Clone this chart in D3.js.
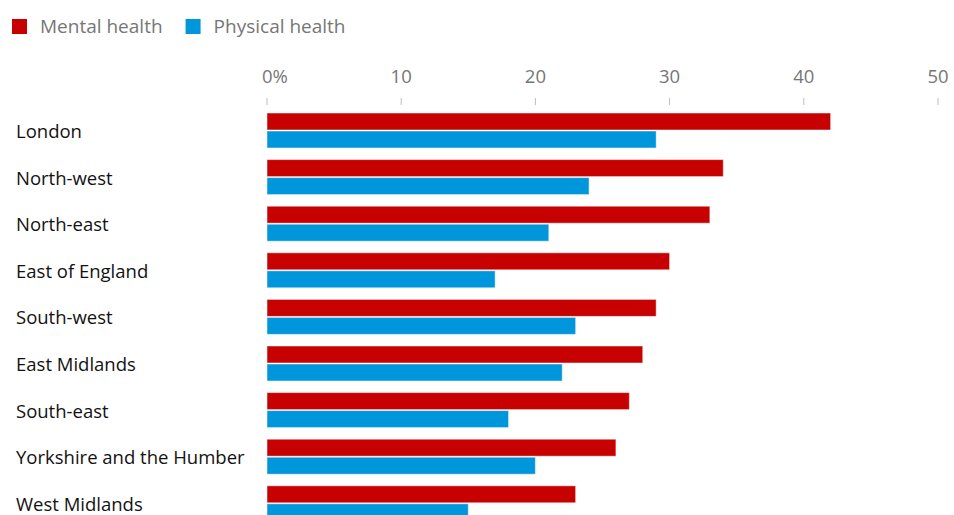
<!DOCTYPE html>
<html>
<head>
<meta charset="utf-8">
<script src="https://cdn.jsdelivr.net/npm/d3@7"></script>
<style>
  body { margin: 0; background: #fff; }
  svg { display: block; font-family: "Open Sans", "Noto Sans", sans-serif; }
</style>
</head>
<body>
<div id="chart"></div>
<script>
const regions = [
  "London", "North-west", "North-east", "East of England", "South-west",
  "East Midlands", "South-east", "Yorkshire and the Humber", "West Midlands"
];
const mental = [42, 34, 33, 30, 29, 28, 27, 26, 23];
const physical = [29, 24, 21, 17, 23, 22, 18, 20, 15];
const seriesNames = ["Mental health", "Physical health"];
const seriesColors = ["#c70000", "#0096db"];
const tickValues = [0, 10, 20, 30, 40, 50];

const width = 954, height = 515;

const svg = d3.select("#chart").append("svg")
  .attr("width", width)
  .attr("height", height);

// legend
const legend = svg.append("g");
let lx = 12;
seriesNames.forEach((name, i) => {
  legend.append("rect")
    .attr("x", lx).attr("y", 19)
    .attr("width", 15).attr("height", 15)
    .attr("fill", seriesColors[i]);
  const t = legend.append("text")
    .attr("x", lx + 28).attr("y", 33)
    .attr("fill", "#767676")
    .style("font-size", "19px")
    .text(name);
  lx += 28 + t.node().getComputedTextLength() + 23;
});

const x = d3.scaleLinear().domain([0, 50]).range([267, 938]);

const step = 46.6, pad = 0.27;
const y = d3.scaleBand()
  .domain(regions)
  .range([113, 113 + step * (regions.length - pad)])
  .paddingInner(pad)
  .paddingOuter(0);

// axis ticks
const axis = svg.append("g");
axis.selectAll("line")
  .data(tickValues)
  .join("line")
  .attr("x1", d => x(d)).attr("x2", d => x(d))
  .attr("y1", 98).attr("y2", 105)
  .attr("stroke", "#bdbdbd")
  .attr("stroke-width", 1);
axis.selectAll("text")
  .data(tickValues)
  .join("text")
  .attr("x", d => d === 0 ? x(d) - 5 : x(d))
  .attr("y", 83)
  .attr("text-anchor", d => d === 0 ? "start" : "middle")
  .attr("fill", "#767676")
  .style("font-size", "18.5px")
  .text(d => d === 0 ? "0%" : d);

// rows
const rows = svg.append("g").selectAll("g")
  .data(regions)
  .join("g");

rows.append("text")
  .attr("x", 16)
  .attr("y", d => y(d) + 25)
  .attr("fill", "#121212")
  .style("font-size", "18.5px")
  .text(d => d);

const barH = 17;
rows.append("rect")
  .attr("x", x(0))
  .attr("y", d => y(d))
  .attr("width", (d, i) => x(mental[i]) - x(0))
  .attr("height", barH)
  .attr("fill", seriesColors[0])
  .attr("stroke", "#fff")
  .attr("stroke-opacity", 0.5)
  .attr("stroke-width", 1);

rows.append("rect")
  .attr("x", x(0))
  .attr("y", d => y(d) + barH + 1)
  .attr("width", (d, i) => x(physical[i]) - x(0))
  .attr("height", barH)
  .attr("fill", seriesColors[1])
  .attr("stroke", "#fff")
  .attr("stroke-opacity", 0.5)
  .attr("stroke-width", 1);
</script>
</body>
</html>
